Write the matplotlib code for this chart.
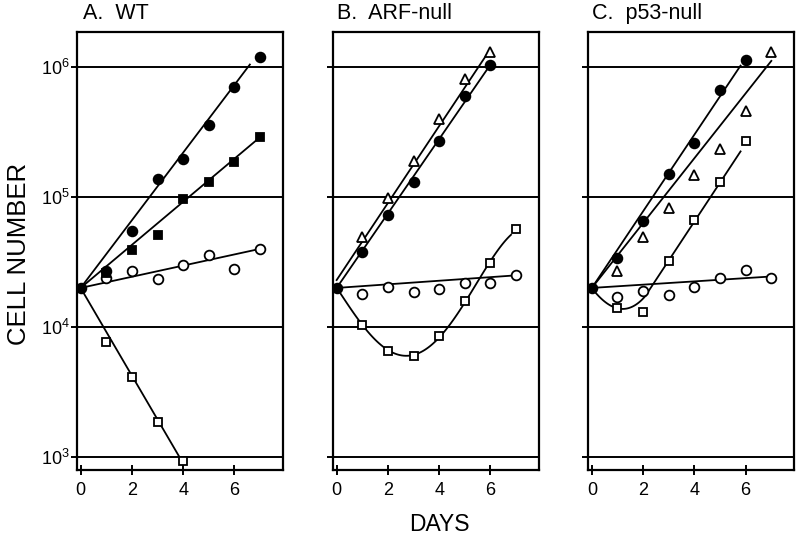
import numpy as np
import matplotlib
matplotlib.use('Agg')
import matplotlib.pyplot as plt
from matplotlib.ticker import FixedLocator, NullLocator, LogFormatterMathtext

plt.rcParams['font.family'] = ['Liberation Sans', 'DejaVu Sans']
plt.rcParams['mathtext.fontset'] = 'custom'
plt.rcParams['mathtext.rm'] = 'Liberation Sans'
plt.rcParams['mathtext.it'] = 'Liberation Sans:italic'
plt.rcParams['mathtext.bf'] = 'Liberation Sans:bold'

# all cultures start from the same number of cells on day 0
start_day = 0
start_cells = 2e4

# --- A. WT ---
a_days = [1, 2, 3, 4, 5, 6, 7]
a_filled_circle = [2.7e4, 5.5e4, 1.38e5, 1.95e5, 3.6e5, 7.0e5, 1.2e6]
a_filled_square = [2.6e4, 3.9e4, 5.1e4, 9.6e4, 1.3e5, 1.85e5, 2.9e5]
a_open_circle = [2.4e4, 2.7e4, 2.35e4, 3.0e4, 3.6e4, 2.8e4, 4.0e4]
a_sq_days = [1, 2, 3, 4]
a_open_square = [7.6e3, 4.1e3, 1.85e3, 930]

# --- B. ARF-null ---
b_days6 = [1, 2, 3, 4, 5, 6]
b_open_triangle = [4.9e4, 9.9e4, 1.9e5, 4.0e5, 8.1e5, 1.3e6]
b_filled_circle = [3.8e4, 7.3e4, 1.3e5, 2.7e5, 6.0e5, 1.05e6]
b_days7 = [1, 2, 3, 4, 5, 6, 7]
b_open_circle = [1.8e4, 2.05e4, 1.85e4, 1.95e4, 2.2e4, 2.2e4, 2.5e4]
b_open_square = [1.04e4, 6.5e3, 6.0e3, 8.5e3, 1.6e4, 3.1e4, 5.7e4]

# --- C. p53-null ---
c_days6 = [1, 2, 3, 4, 5, 6]
c_filled_circle = [3.4e4, 6.6e4, 1.5e5, 2.6e5, 6.7e5, 1.13e6]
c_open_square = [1.4e4, 1.3e4, 3.2e4, 6.7e4, 1.3e5, 2.7e5]
c_days7 = [1, 2, 3, 4, 5, 6, 7]
c_open_triangle = [2.7e4, 4.9e4, 8.2e4, 1.48e5, 2.35e5, 4.6e5, 1.3e6]
c_open_circle = [1.7e4, 1.9e4, 1.75e4, 2.05e4, 2.4e4, 2.75e4, 2.4e4]

# hand drawn trend lines (start/end)
a_lines = [([0, 6.6], [2e4, 1.05e6]),
           ([0, 7.0], [2e4, 2.9e5]),
           ([0, 7.0], [2e4, 4.0e4]),
           ([0, 3.85], [2e4, 1.0e3])]
b_lines = [([0, 5.85], [2.3e4, 1.25e6]),
           ([0, 6.0], [2e4, 1.05e6]),
           ([0, 7.0], [2e4, 2.5e4])]
c_lines = [([0, 5.8], [2e4, 1.03e6]),
           ([0, 7.0], [2e4, 1.12e6]),
           ([0, 7.0], [2e4, 2.45e4]),
           ([2.1, 5.8], [1.75e4, 2.25e5])]

# curved trend lines
b_curve_days = [0, 1, 2, 3, 4, 5, 6, 6.8]
b_curve_cells = [2.0e4, 1.05e4, 6.7e3, 5.9e3, 8.4e3, 1.6e4, 3.1e4, 5.2e4]
c_curve_days = [0, 0.5, 1, 1.4, 1.9, 2.1]
c_curve_cells = [2.0e4, 1.55e4, 1.42e4, 1.38e4, 1.58e4, 1.75e4]

LW = 1.3


def smooth(ax, days, cells, deg):
    coef = np.polyfit(days, np.log10(cells), deg)
    xs = np.linspace(days[0], days[-1], 100)
    ax.plot(xs, 10 ** np.polyval(coef, xs), color='black', lw=LW, zorder=2)


def pts(ax, x, y, marker, filled, ms):
    ax.plot(x, y, linestyle='none', marker=marker, ms=ms,
            mfc='black' if filled else 'white', mec='black', mew=1.3, zorder=3)


fig = plt.figure(figsize=(8, 5.37), dpi=100)
lefts = [0.096, 0.416, 0.735]
axes = [fig.add_axes([l, 0.125, 0.258, 0.815]) for l in lefts]
titles = ['A.  WT', 'B.  ARF-null', 'C.  p53-null']

for i, ax in enumerate(axes):
    ax.set_yscale('log')
    ax.set_ylim(10 ** 2.9, 10 ** 6.27)
    ax.set_xlim(-0.15, 7.9)
    ax.yaxis.set_major_locator(FixedLocator([1e3, 1e4, 1e5, 1e6]))
    ax.yaxis.set_minor_locator(NullLocator())
    ax.yaxis.set_major_formatter(LogFormatterMathtext())
    ax.set_xticks([0, 2, 4, 6])
    ax.grid(axis='y', color='black', lw=1.4, zorder=1)
    ax.tick_params(axis='y', direction='out', length=4, width=1.4, labelsize=13, pad=1)
    ax.tick_params(axis='x', direction='inout', length=7, width=1.4, labelsize=13, pad=5)
    if i > 0:
        ax.tick_params(axis='y', labelleft=False)
    for s in ax.spines.values():
        s.set_linewidth(1.6)
    ax.text(0.03 if i == 0 else 0.02, 1.03, titles[i], transform=ax.transAxes,
            fontsize=15.5, ha='left', va='baseline')

ax = axes[0]
for x, y in a_lines:
    ax.plot(x, y, color='black', lw=LW, zorder=2)
pts(ax, a_days, a_open_circle, 'o', False, 7)
pts(ax, a_sq_days, a_open_square, 's', False, 5.5)
pts(ax, a_days, a_filled_square, 's', True, 5.5)
pts(ax, a_days, a_filled_circle, 'o', True, 7)
pts(ax, [start_day], [start_cells], 'o', True, 7)

ax = axes[1]
for x, y in b_lines:
    ax.plot(x, y, color='black', lw=LW, zorder=2)
smooth(ax, b_curve_days, b_curve_cells, 4)
pts(ax, b_days7, b_open_circle, 'o', False, 7)
pts(ax, b_days7, b_open_square, 's', False, 5.5)
pts(ax, b_days6, b_filled_circle, 'o', True, 7)
pts(ax, b_days6, b_open_triangle, '^', False, 7.5)
pts(ax, [start_day], [start_cells], 'o', True, 7)

ax = axes[2]
for x, y in c_lines:
    ax.plot(x, y, color='black', lw=LW, zorder=2)
smooth(ax, c_curve_days, c_curve_cells, 3)
pts(ax, c_days7, c_open_circle, 'o', False, 7)
pts(ax, c_days6, c_open_square, 's', False, 5.5)
pts(ax, c_days7, c_open_triangle, '^', False, 7.5)
pts(ax, c_days6, c_filled_circle, 'o', True, 7)
pts(ax, [start_day], [start_cells], 'o', True, 7)

fig.text(0.024, 0.527, 'CELL NUMBER', rotation=90, fontsize=18.5, ha='center', va='center')
fig.text(0.549, 0.002, 'DAYS', fontsize=16.5, ha='center', va='bottom')

fig.savefig('out.png', dpi=100)
